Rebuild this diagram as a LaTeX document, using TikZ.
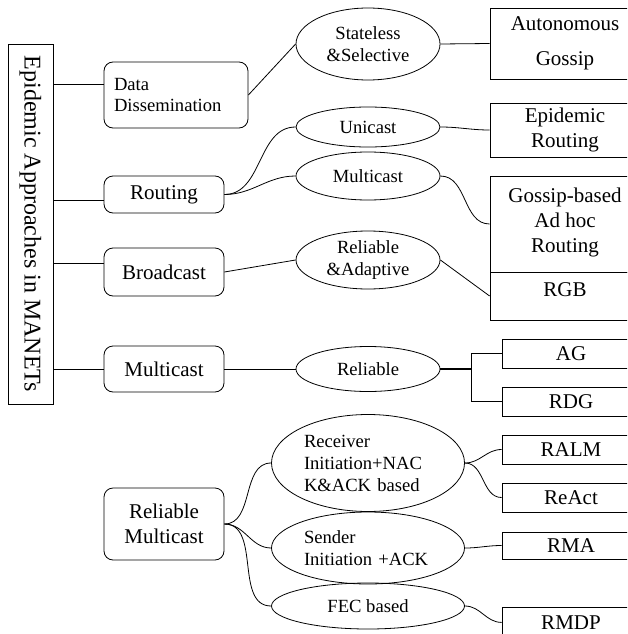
\documentclass[tikz,border=0pt]{standalone}
\usepackage{fontspec}
\setmainfont{Liberation Serif}
\usetikzlibrary{shapes.geometric}

\begin{document}
\begin{tikzpicture}[x=1pt,y=-1pt,line width=0.8pt,
  group/.style={draw,rounded corners=9pt,inner sep=0pt,minimum width=120pt,
    font=\fontsize{21}{25}\selectfont,align=center},
  kind/.style={draw,ellipse,inner sep=0pt,minimum width=144pt,
    font=\fontsize{18.6}{22}\selectfont,align=center},
  leaf/.style={draw,rectangle,inner sep=0pt,minimum width=150pt,
    font=\fontsize{21}{25}\selectfont,align=center}]
\useasboundingbox (0,0) rectangle (627,634);
\clip (0,0) rectangle (627,634);

\node[draw,rotate=-90,minimum width=360pt,minimum height=45pt,inner sep=0pt,
  font=\fontsize{24}{28}\selectfont] (T) at (30.5,224) {Epidemic Approaches in MANETs};

% first level
\node[group,minimum width=144pt,minimum height=66pt,text width=124pt,align=left,
  font=\fontsize{18.6}{21}\selectfont] (DD) at (176,95) {Data\\Dissemination};
\node[group,minimum height=37pt] (Rout) at (164,194.5) {Routing};
\node[group,minimum height=48pt] (Broad) at (164,272) {Broadcast};
\node[group,minimum height=46pt] (Multi) at (164,369) {Multicast};
\node[group,minimum height=72pt] (RelMul) at (164,524) {Reliable\\Multicast};

% second level
\node[kind,minimum height=72pt] (SS) at (368,44) {Stateless\\\&Selective};
\node[kind,minimum height=40pt] (Uni) at (368,127) {Unicast};
\node[kind,minimum height=48pt] (MulE) at (368,176) {Multicast};
\node[kind,minimum height=58pt] (RA) at (368,260) {Reliable\\\&Adaptive};
\node[kind,minimum height=45pt] (Rel) at (368,369) {Reliable};
\node[kind,minimum width=193pt,minimum height=97pt,text width=128pt,align=left]
  (Recv) at (368,463) {Receiver\\Initiation+NAC\\K\&ACK based};
\node[kind,minimum width=193pt,minimum height=72pt,text width=128pt,align=left]
  (Send) at (368,548) {Sender\\Initiation +ACK};
\node[kind,minimum width=193pt,minimum height=46pt] (FEC) at (368,606) {FEC based};

% protocols
\node[leaf,minimum height=71pt] (Auto) at (565,43.5) {Autonomous\\[10pt]Gossip};
\node[leaf,minimum height=54pt] (Epi) at (565,130) {Epidemic\\Routing};
\node[leaf,minimum height=96pt] (GAR) at (565,224) {Gossip-based\\Ad hoc\\Routing\\[-17pt]};
\node[leaf,minimum height=48pt] (RGB) at (565,296) {RGB\\[-13pt]};
\node[leaf,minimum width=138pt,minimum height=29pt] (AG) at (571,353.5) {AG};
\node[leaf,minimum width=138pt,minimum height=29pt] (RDG) at (571,401.5) {RDG};
\node[leaf,minimum width=138pt,minimum height=29pt] (RALM) at (571,449.5) {RALM};
\node[leaf,minimum width=138pt,minimum height=29pt] (ReAct) at (571,497.5) {ReAct};
\node[leaf,minimum width=138pt,minimum height=27pt] (RMA) at (571,545.5) {RMA};
\node[leaf,minimum width=138pt,minimum height=30pt,anchor=north] (RMDP) at (571,607) {RMDP};

\coordinate (fork) at ([xshift=31pt]Rel.east);

\path
  ([yshift=11pt]DD.west -| T.north) edge ([yshift=11pt]DD.west)
  ([yshift=-5.5pt]Rout.west -| T.north) edge ([yshift=-5.5pt]Rout.west)
  ([yshift=9pt]Broad.west -| T.north) edge ([yshift=9pt]Broad.west)
  (Multi.west -| T.north) edge (Multi.west);

\path
  (DD.east) edge (SS.west)
  (Broad.east) edge (RA.west)
  (Multi.east) edge (Rel.west)
  (SS.east) edge (Auto.west)
  (RA.east) edge (RGB.west)
  (Send.east) edge[out=0,in=180] (RMA.west);

\path[out=0,in=180]
  (Rout.east) edge (Uni.west)
  (Rout.east) edge (MulE.west)
  (Uni.east) edge (Epi.west)
  (MulE.east) edge (GAR.west)
  (RelMul.east) edge (Recv.west)
  (RelMul.east) edge (Send.west)
  (RelMul.east) edge (FEC.west)
  (Recv.east) edge (RALM.west)
  (Recv.east) edge (ReAct.west)
  (FEC.east) edge (RMDP.west);

\draw[line width=1.6pt] (Rel.east) -- (fork);
\draw (AG.west) -| (fork) |- (RDG.west);

\end{tikzpicture}
\end{document}
